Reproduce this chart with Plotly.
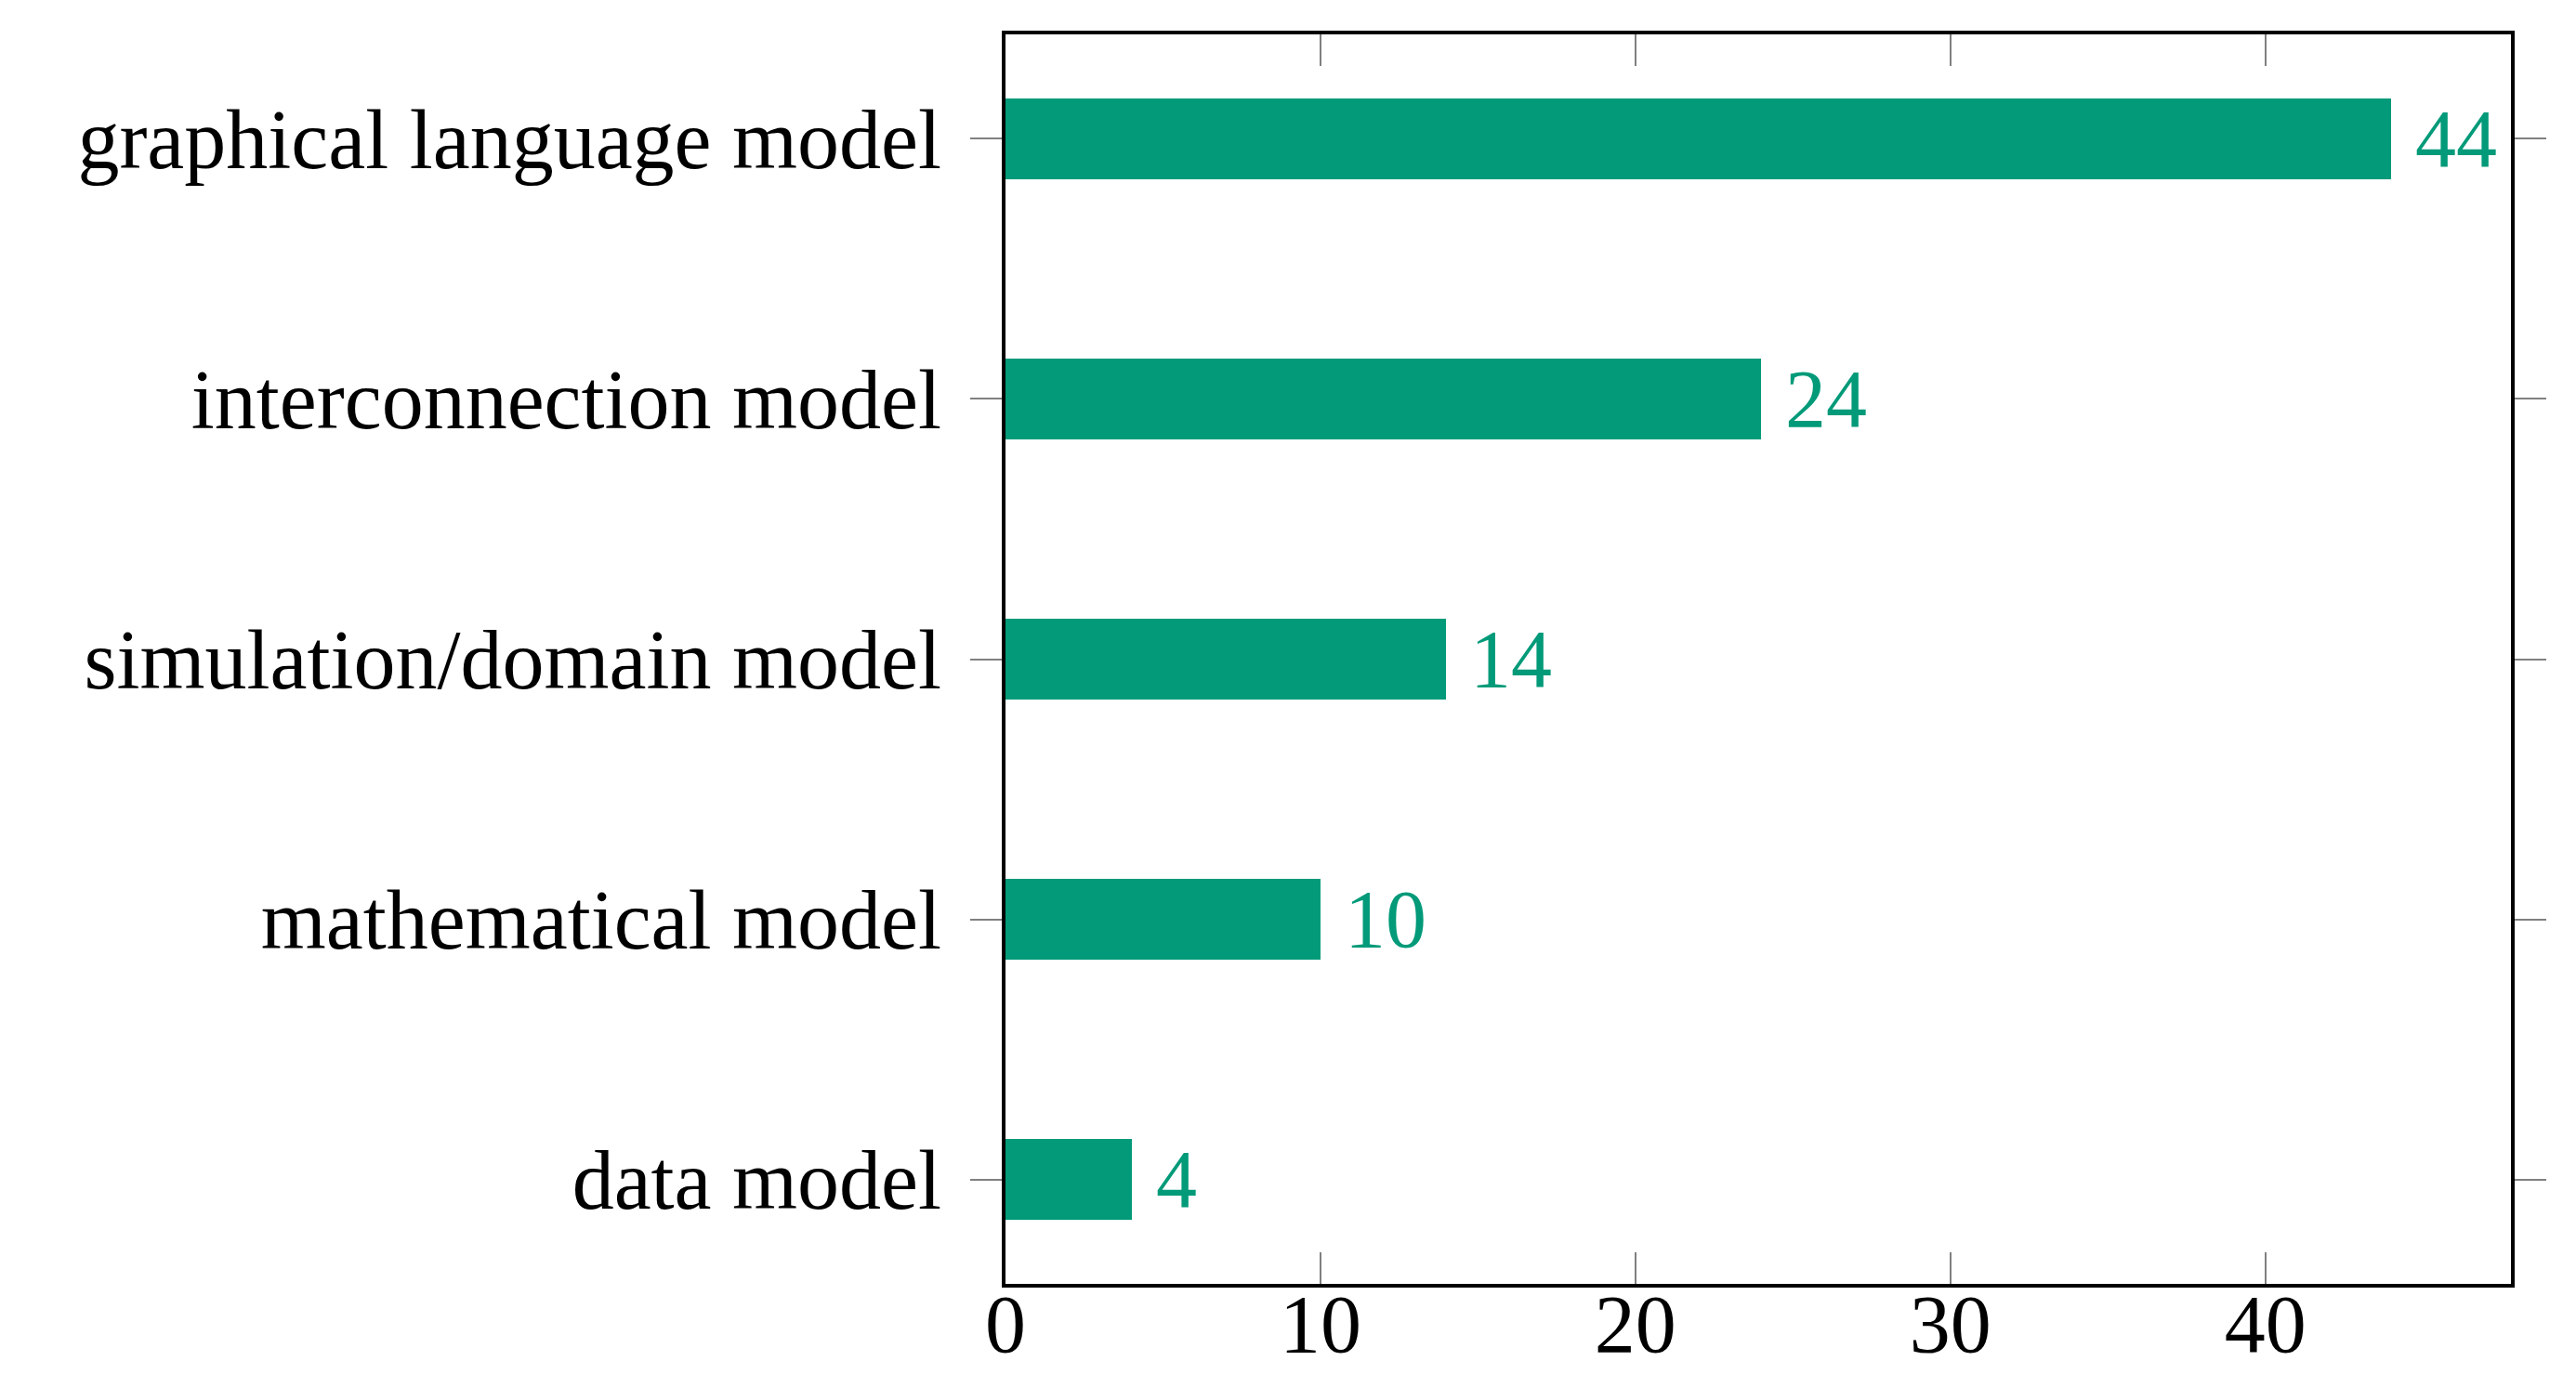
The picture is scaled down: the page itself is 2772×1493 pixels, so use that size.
import plotly.graph_objects as go

categories = ["data model", "mathematical model", "simulation/domain model",
              "interconnection model", "graphical language model"]
values = [4, 10, 14, 24, 44]
x_ticks = [0, 10, 20, 30, 40]

GREEN = "#029A79"
FONT = "Liberation Serif"
FS = 88

fig = go.Figure()
fig.add_trace(go.Bar(
    x=values, y=list(range(len(categories))), orientation="h",
    width=0.31, marker=dict(color=GREEN, line=dict(width=0)),
    showlegend=False, hoverinfo="skip",
))
for i, v in enumerate(values):
    fig.add_annotation(x=v, y=i, text=str(v), showarrow=False,
                       xanchor="left", yanchor="middle", xshift=24,
                       font=dict(family=FONT, size=FS, color=GREEN))

fig.update_layout(
    width=2772, height=1493,
    margin=dict(l=1074, r=78, t=29, b=119),
    paper_bgcolor="white", plot_bgcolor="white",
    font=dict(family=FONT, size=FS, color="black"),
    bargap=0,
)
fig.update_xaxes(
    range=[0, 47.8], tickvals=x_ticks, ticktext=[str(t) for t in x_ticks],
    ticks="inside", ticklen=34, tickwidth=2, tickcolor="#808080",
    showline=True, linecolor="black", linewidth=4, mirror="ticks",
    showgrid=False, zeroline=False, automargin=False,
    ticklabelstandoff=-37,
    tickfont=dict(family=FONT, size=FS, color="black"),
)
fig.update_yaxes(
    range=[-0.4, 4.4], tickvals=list(range(len(categories))), ticktext=categories,
    ticks="outside", ticklen=34, tickwidth=2, tickcolor="#808080",
    showline=True, linecolor="black", linewidth=4, mirror="ticks",
    showgrid=False, zeroline=False, ticklabelstandoff=13, automargin=False,
    tickfont=dict(family=FONT, size=90, color="black"),
)

fig.write_html("out.html")
